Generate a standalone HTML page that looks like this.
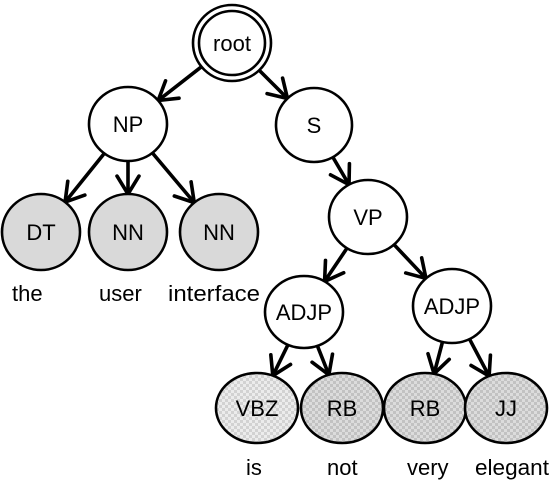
<!DOCTYPE html>
<html><head><meta charset="utf-8"><style>
html,body{margin:0;padding:0;background:#fff;}
svg{display:block;font-family:"Liberation Sans","DejaVu Sans",sans-serif;}
</style></head><body>
<svg id="s" width="550" height="481" viewBox="0 0 550 481" xmlns="http://www.w3.org/2000/svg">
<defs>
<pattern id="chk1" width="6" height="6" patternUnits="userSpaceOnUse">
<rect width="6" height="6" fill="#ececec"/><rect width="3" height="3" fill="#d2d2d2"/><rect x="3" y="3" width="3" height="3" fill="#d2d2d2"/>
</pattern>
<pattern id="chk2" width="6" height="6" patternUnits="userSpaceOnUse">
<rect width="6" height="6" fill="#dcdcdc"/><rect width="3" height="3" fill="#c2c2c2"/><rect x="3" y="3" width="3" height="3" fill="#c2c2c2"/>
</pattern>
</defs>
<g id="edges" stroke="#000" stroke-width="3.6" fill="none" stroke-linecap="round" stroke-linejoin="round"></g>
<g id="nodes" stroke="#000" stroke-width="2.6"></g>
<g font-size="22" fill="#000">
<text x="12" y="301">the</text>
<text x="99" y="301">user</text>
<text x="168" y="301" textLength="92" lengthAdjust="spacingAndGlyphs">interface</text>
<text x="246" y="475">is</text>
<text x="327" y="475">not</text>
<text x="407" y="475">very</text>
<text x="475" y="475" textLength="74" lengthAdjust="spacingAndGlyphs">elegant</text>
</g>
</svg>
<script>
var N={
root:[232,43,39,38,"root","#fff"],
NP:[128,124,39,37,"NP","#fff"],
S:[314,125,38,37,"S","#fff"],
DT:[41,232,39,38,"DT","#d9d9d9"],
NN1:[128,232,39,38,"NN","#d9d9d9"],
NN2:[219,232,39,38,"NN","#d9d9d9"],
VP:[368,217,39,37,"VP","#fff"],
A1:[304,312,39,36,"ADJP","#fff"],
A2:[452,306,39,37,"ADJP","#fff"],
VBZ:[257,408,41,35,"VBZ","url(#chk1)"],
RB1:[342,408,41,35,"RB","url(#chk2)"],
RB2:[425,408,41,35,"RB","url(#chk2)"],
JJ:[506,408,41,35,"JJ","url(#chk2)"]
};
var E=[["root","NP"],["root","S"],["NP","DT"],["NP","NN1"],["NP","NN2"],["S","VP"],["VP","A1"],["VP","A2"],["A1","VBZ"],["A1","RB1"],["A2","RB2"],["A2","JJ"]];
var ns="http://www.w3.org/2000/svg";
function el(t,a,p){var e=document.createElementNS(ns,t);for(var k in a)e.setAttribute(k,a[k]);p.appendChild(e);return e;}
var eg=document.getElementById("edges"),ng=document.getElementById("nodes");
function edgePt(n,dx,dy){var t=1/Math.sqrt((dx*dx)/(n[2]*n[2])+(dy*dy)/(n[3]*n[3]));return [n[0]+dx*t,n[1]+dy*t];}
E.forEach(function(e){var a=N[e[0]],b=N[e[1]];var dx=b[0]-a[0],dy=b[1]-a[1];
var p=edgePt(a,dx,dy),q=edgePt(b,-dx,-dy);
el("line",{x1:p[0],y1:p[1],x2:q[0],y2:q[1]},eg);
var L=Math.sqrt(dx*dx+dy*dy),ux=dx/L,uy=dy/L,h=21,ang=0.55;
function rot(c,s){return [-(ux*c-uy*s)*h,-(ux*s+uy*c)*h];}
var r1=rot(Math.cos(ang),Math.sin(ang)),r2=rot(Math.cos(-ang),Math.sin(-ang));
el("polyline",{points:(q[0]+r1[0])+","+(q[1]+r1[1])+" "+q[0]+","+q[1]+" "+(q[0]+r2[0])+","+(q[1]+r2[1])},eg);
});
for(var k in N){var n=N[k];
el("ellipse",{cx:n[0],cy:n[1],rx:n[2],ry:n[3],fill:n[5]},ng);
if(k=="root")el("ellipse",{cx:n[0],cy:n[1],rx:n[2]-6,ry:n[3]-6,fill:"none"},ng);
var t=el("text",{x:n[0],y:n[1]+8,"text-anchor":"middle","font-size":"22",stroke:"none",fill:"#000"},ng);t.textContent=n[4];}
</script>
</body></html>
